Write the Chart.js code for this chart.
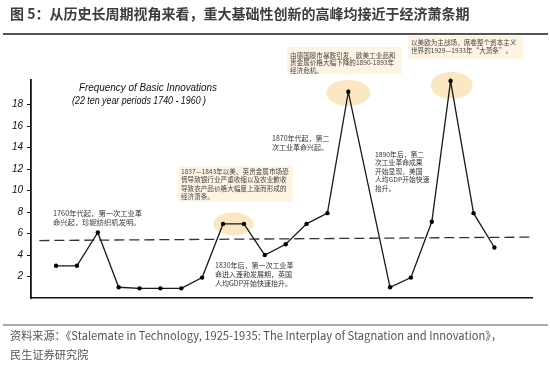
<!DOCTYPE html>
<html>
<head>
<meta charset="utf-8">
<script src="https://cdn.jsdelivr.net/npm/chart.js@4"></script>
<style>
body { margin: 0; background: #fff; }
canvas { display: block; }
</style>
</head>
<body>
<canvas id="chart" width="550" height="367"></canvas>
<script>
const years = [1743, 1753, 1763, 1773, 1783, 1793, 1803, 1813, 1823, 1833, 1843, 1853, 1863, 1873, 1883, 1903, 1913, 1923, 1932, 1943, 1953];
const innovations = [3, 3, 6.1, 1, 0.9, 0.9, 0.9, 1.9, 6.9, 6.9, 4, 5, 6.9, 7.9, 19.2, 1, 1.9, 7.1, 20.2, 7.9, 4.7];
// dashed average line
const trendYears = [1735, 1971];
const trendValues = [5.35, 5.67];
const yTicks = [2, 4, 6, 8, 10, 12, 14, 16, 18];
const xTicks = [1740, 1750, 1800, 1850, 1900, 1950];

const CJK = '"Noto Sans CJK SC", "Noto Sans", sans-serif';
const ITAL = '"Liberation Sans", "DejaVu Sans", sans-serif';

// highlight ellipses, anchored at data values
const highlights = [
    { x: 1828, y: 6.9, rx: 20, ry: 11.5 },
    { x: 1883, y: 19.1, rx: 22, ry: 13 },
    { x: 1932.5, y: 19.8, rx: 21, ry: 13.5 }
];

const boxes = [
    { x: 178, y: 166, w: 115, h: 36, size: 6.6, lh: 8.5, ty: 171,
      lines: ['1837—1843年以美、英贵金属市场恐', '慌导致银行业严重收缩以及农业歉收', '导致农产品价格大幅度上涨而形成的', '经济萧条。'] },
    { x: 287, y: 47, w: 115, h: 27, size: 6.6, lh: 7.6, ty: 55,
      lines: ['由德国股市暴跌引发、欧美工业品和', '贵金属价格大幅下降的1890-1893年', '经济危机。'] },
    { x: 408, y: 36, w: 115, h: 23, size: 6.6, lh: 8.5, ty: 42,
      lines: ['以美欧为主战场，席卷整个资本主义', '世界的1929—1933年“大萧条”。'] }
];

const notes = [
    { x: 53, y: 213, size: 7.3, lh: 9, lines: ['1760年代起，第一次工业革', '命兴起，珍妮纺织机发明。'] },
    { x: 272, y: 138, size: 7, lh: 9, lines: ['1870年代起，第二', '次工业革命兴起。'] },
    { x: 375, y: 154, size: 6.8, lh: 8.6, lines: ['1890年后，第二', '次工业革命成果', '开始显现，美国', '人均GDP开始快速', '抬升。'] },
    { x: 215, y: 265, size: 7, lh: 9, lines: ['1830年后，第一次工业革', '命进入蓬勃发展期，英国', '人均GDP开始快速抬升。'] }
];

const decor = {
    id: 'decor',
    beforeDatasetsDraw(chart) {
        const ctx = chart.ctx, xs = chart.scales.x, ys = chart.scales.y;
        ctx.save();
        ctx.fillStyle = '#fce7c4';
        highlights.forEach(h => {
            ctx.beginPath();
            ctx.ellipse(xs.getPixelForValue(h.x), ys.getPixelForValue(h.y), h.rx, h.ry, 0, 0, Math.PI * 2);
            ctx.fill();
        });
        ctx.restore();
    },
    afterDraw(chart) {
        const ctx = chart.ctx;
        ctx.save();
        // header
        ctx.fillStyle = '#3c3c3c';
        ctx.font = 'bold 14px ' + CJK;
        ctx.textBaseline = 'middle';
        ctx.fillText('图 5：从历史长周期视角来看，重大基础性创新的高峰均接近于经济萧条期', 10, 14, 474);
        ctx.strokeStyle = '#555';
        ctx.lineWidth = 2.2;
        ctx.beginPath(); ctx.moveTo(3, 34); ctx.lineTo(548, 34); ctx.stroke();
        ctx.lineWidth = 1.2;
        ctx.beginPath(); ctx.moveTo(3, 325); ctx.lineTo(548, 325); ctx.stroke();
        ctx.fillStyle = '#555';
        ctx.font = '11.2px ' + CJK;
        ctx.fillText('资料来源：《Stalemate in Technology, 1925-1935: The Interplay of Stagnation and Innovation》，', 10, 336, 492);
        ctx.fillText('民生证券研究院', 10, 355);

        // chart caption
        ctx.fillStyle = '#111';
        ctx.font = 'italic 10.5px ' + ITAL;
        ctx.fillText('Frequency of Basic Innovations', 79, 88, 138);
        ctx.fillText('(22 ten year periods 1740 - 1960 )', 72, 101, 134);

        // boxed notes
        boxes.forEach(b => {
            ctx.fillStyle = '#fdf4e4';
            ctx.fillRect(b.x, b.y, b.w, b.h);
            ctx.fillStyle = '#444';
            ctx.font = b.size + 'px ' + CJK;
            b.lines.forEach((t, i) => ctx.fillText(t, b.x + 3, b.ty + i * b.lh));
        });
        notes.forEach(n => {
            ctx.fillStyle = '#333';
            ctx.font = n.size + 'px ' + CJK;
            n.lines.forEach((t, i) => ctx.fillText(t, n.x, n.y + i * n.lh));
        });
        ctx.restore();
    }
};

const data = {
    datasets: [
        {
            label: 'Innovations',
            data: years.map((y, i) => ({ x: y, y: innovations[i] })),
            borderColor: '#1a1a1a',
            backgroundColor: '#000',
            borderWidth: 1.3,
            pointRadius: 2.2,
            pointBorderWidth: 0,
            tension: 0,
            clip: false
        }, {
            label: 'Average',
            data: trendYears.map((y, i) => ({ x: y, y: trendValues[i] })),
            borderColor: '#333',
            borderWidth: 1.3,
            borderDash: [10, 5],
            pointRadius: 0,
            clip: false
        }
    ]
};

var id = document.getElementById("chart").getContext("2d");

var chart = new Chart(id, {
    type: "line",
    data: data,
    plugins: [decor],
    options: {
        responsive: false,
        animation: false,
        layout: { padding: { top: 80, right: 18, bottom: 50, left: 0 } },
        plugins: {
            legend: { display: false },
            tooltip: { enabled: false }
        },
        scales: {
            x: {
                type: 'linear',
                min: 1731,
                max: 1971,
                afterFit: s => { s.height = 19; },
                afterBuildTicks: s => { s.ticks = xTicks.map(v => ({ value: v })); },
                grid: { display: false },
                border: { display: true, color: '#111', width: 1.6 },
                ticks: {
                    padding: 13,
                    color: '#111',
                    font: { family: ITAL, size: 10, style: 'italic' },
                    callback: v => String(v)
                }
            },
            y: {
                min: 0,
                max: 20.3,
                afterFit: s => { s.width = 31; },
                afterBuildTicks: s => { s.ticks = yTicks.map(v => ({ value: v })); },
                grid: { display: true, drawOnChartArea: false, tickLength: 4, color: '#111', lineWidth: 1 },
                border: { display: true, color: '#111', width: 1.8 },
                ticks: {
                    padding: 4,
                    color: '#111',
                    font: { family: ITAL, size: 10, style: 'italic' }
                }
            }
        }
    }
});
</script>
</body>
</html>
